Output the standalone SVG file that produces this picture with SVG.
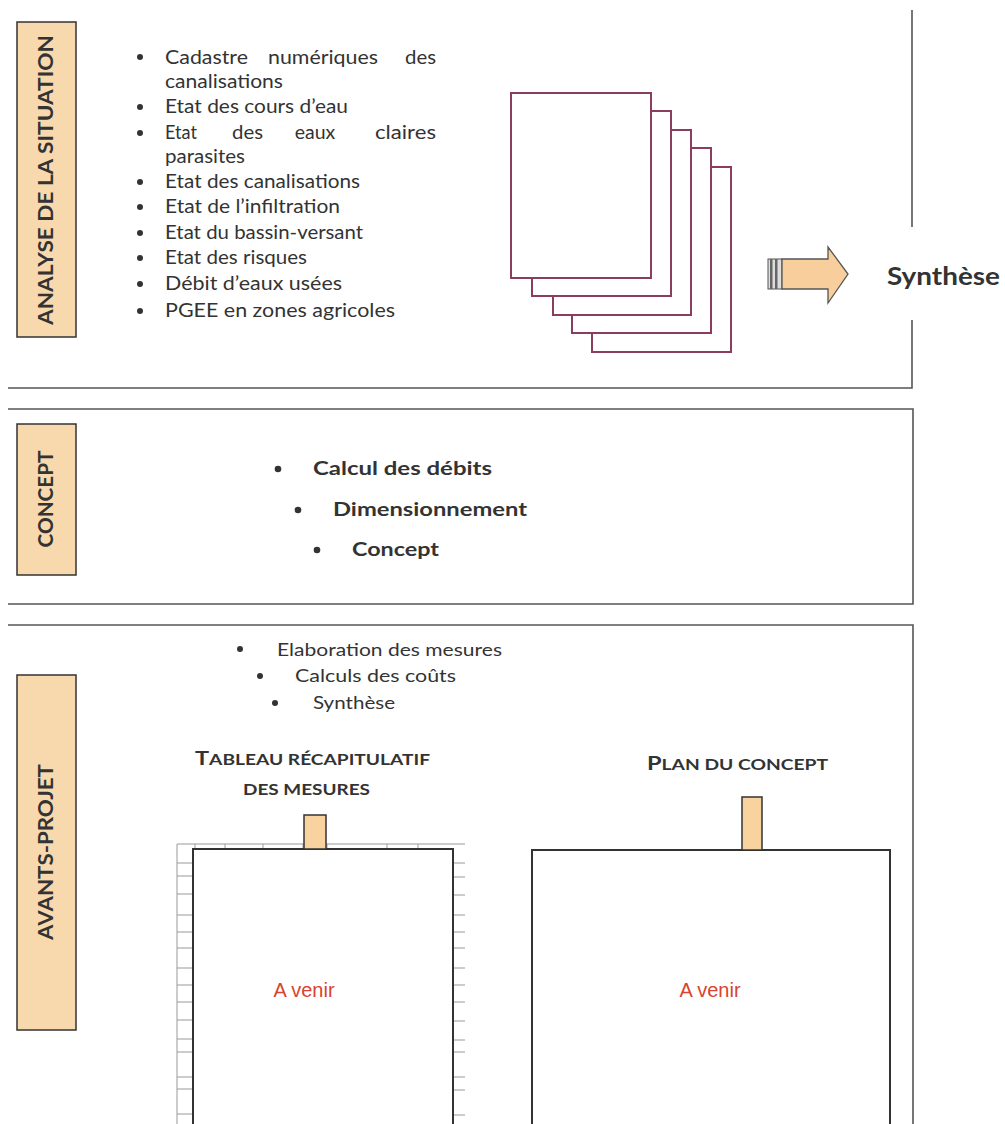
<svg xmlns="http://www.w3.org/2000/svg" width="1005" height="1124" viewBox="0 0 1005 1124">
<style>
.frame{fill:none;stroke:#555;stroke-width:1.6}
.lab{fill:#f8d9ae;stroke:#333;stroke-width:1.5}
.labt{font-family:Lato,"Open Sans",sans-serif;font-weight:bold;font-size:20px;fill:#333;text-anchor:middle}
.t{font-family:Lato,"Open Sans",sans-serif;font-size:19.5px;fill:#333}
.tb{font-family:Lato,"Open Sans",sans-serif;font-size:19px;font-weight:bold;fill:#333}
.page{fill:#fff;stroke:#8a3d5c;stroke-width:2}
.box{fill:#fff;stroke:#333;stroke-width:2}
.tab{fill:#f8d29f;stroke:#333;stroke-width:1.5}
.red{font-family:"Liberation Sans",Arial,sans-serif;font-size:20px;fill:#d9432f;text-anchor:middle}
.sc{font-family:Lato,"Open Sans",sans-serif;font-weight:bold;fill:#333}
.grid{stroke:#999;stroke-width:1;fill:none}
</style>
<rect width="1005" height="1124" fill="#fff"/>

<!-- Section 1 -->
<g id="section-analyse">
  <path class="frame" d="M912 10 V227 M912 320 V388 H8"/>
  <g id="label-analyse">
    <rect class="lab" x="17" y="22" width="59" height="315"/>
    <text class="labt" transform="translate(53,180) rotate(-90)" textLength="290" lengthAdjust="spacingAndGlyphs">ANALYSE DE LA SITUATION</text>
  </g>
  <g id="list-analyse" class="t">
    <circle cx="140" cy="57" r="3" fill="#333"/>
    <text x="165" y="64" textLength="83" lengthAdjust="spacingAndGlyphs">Cadastre</text>
    <text x="268" y="64" textLength="110" lengthAdjust="spacingAndGlyphs">numériques</text>
    <text x="405" y="64" textLength="31" lengthAdjust="spacingAndGlyphs">des</text>
    <text x="165" y="88" textLength="118" lengthAdjust="spacingAndGlyphs">canalisations</text>
    <circle cx="140" cy="107" r="3" fill="#333"/>
    <text x="165" y="113" textLength="183" lengthAdjust="spacingAndGlyphs">Etat des cours d’eau</text>
    <circle cx="140" cy="133" r="3" fill="#333"/>
    <text x="165" y="139" textLength="32" lengthAdjust="spacingAndGlyphs">Etat</text>
    <text x="232" y="139" textLength="31" lengthAdjust="spacingAndGlyphs">des</text>
    <text x="315" y="139" text-anchor="middle">eaux</text>
    <text x="375" y="139" textLength="61" lengthAdjust="spacingAndGlyphs">claires</text>
    <text x="165" y="163" textLength="80" lengthAdjust="spacingAndGlyphs">parasites</text>
    <circle cx="140" cy="182" r="3" fill="#333"/>
    <text x="165" y="188" textLength="195" lengthAdjust="spacingAndGlyphs">Etat des canalisations</text>
    <circle cx="140" cy="207" r="3" fill="#333"/>
    <text x="165" y="213" textLength="175" lengthAdjust="spacingAndGlyphs">Etat de l’infiltration</text>
    <circle cx="140" cy="233" r="3" fill="#333"/>
    <text x="165" y="239" textLength="198" lengthAdjust="spacingAndGlyphs">Etat du bassin-versant</text>
    <circle cx="140" cy="258" r="3" fill="#333"/>
    <text x="165" y="264" textLength="142" lengthAdjust="spacingAndGlyphs">Etat des risques</text>
    <circle cx="140" cy="284" r="3" fill="#333"/>
    <text x="165" y="290" textLength="177" lengthAdjust="spacingAndGlyphs">Débit d’eaux usées</text>
    <circle cx="140" cy="311" r="3" fill="#333"/>
    <text x="165" y="317" textLength="230" lengthAdjust="spacingAndGlyphs">PGEE en zones agricoles</text>
  </g>
  <g id="pages">
    <rect class="page" x="592" y="167" width="139" height="185"/>
    <rect class="page" x="572" y="148" width="139" height="185"/>
    <rect class="page" x="553" y="130" width="138" height="185"/>
    <rect class="page" x="532" y="111" width="139" height="185"/>
    <rect class="page" x="511" y="93" width="140" height="185"/>
  </g>
</g>

<g id="connectors">
  <g id="arrow-synthese">
    <rect x="768" y="259" width="14" height="30" fill="#ddd" stroke="#555" stroke-width="1"/>
    <rect x="770" y="259" width="2.5" height="30" fill="#666"/>
    <rect x="775" y="259" width="2.5" height="30" fill="#666"/>
    <path d="M782 259 H828 V247 L848 274 L828 303 V289 H782 Z" fill="#f8cf9c" stroke="#555" stroke-width="1.3"/>
  </g>
</g>
<g id="node-synthese">
  <text x="887" y="285" font-family="Lato,'Open Sans',sans-serif" font-weight="bold" font-size="25" fill="#333" textLength="113" lengthAdjust="spacingAndGlyphs">Synthèse</text>
</g>

<!-- Section 2 -->
<g id="section-concept">
  <path class="frame" d="M8 409 H913 V604 H8"/>
  <g id="label-concept">
    <rect class="lab" x="17" y="424" width="59" height="151"/>
    <text class="labt" transform="translate(53,499) rotate(-90)" textLength="97" lengthAdjust="spacingAndGlyphs">CONCEPT</text>
  </g>
  <g id="list-concept" class="tb">
    <circle cx="278" cy="469" r="3.3" fill="#333"/>
    <text x="313" y="475" textLength="179" lengthAdjust="spacingAndGlyphs">Calcul des débits</text>
    <circle cx="298" cy="510" r="3.3" fill="#333"/>
    <text x="333" y="516" textLength="194" lengthAdjust="spacingAndGlyphs">Dimensionnement</text>
    <circle cx="317" cy="550" r="3.3" fill="#333"/>
    <text x="352" y="556" textLength="87" lengthAdjust="spacingAndGlyphs">Concept</text>
  </g>
</g>

<!-- Section 3 -->
<g id="section-avants-projet">
  <path class="frame" d="M8 625 H913 V1124"/>
  <g id="label-avants">
    <rect class="lab" x="17" y="675" width="59" height="355"/>
    <text class="labt" transform="translate(53,852) rotate(-90)" textLength="176" lengthAdjust="spacingAndGlyphs">AVANTS-PROJET</text>
  </g>
  <g id="list-avants" class="t">
    <circle cx="240" cy="649" r="3" fill="#333"/>
    <text x="277" y="656" font-size="18" textLength="225" lengthAdjust="spacingAndGlyphs">Elaboration des mesures</text>
    <circle cx="260" cy="676" r="3" fill="#333"/>
    <text x="295" y="682" font-size="18" textLength="161" lengthAdjust="spacingAndGlyphs">Calculs des coûts</text>
    <circle cx="275" cy="703" r="3" fill="#333"/>
    <text x="313" y="709" font-size="18" textLength="82" lengthAdjust="spacingAndGlyphs">Synthèse</text>
  </g>

  <g id="node-tableau">
    <text class="sc" x="195" y="765" textLength="235" lengthAdjust="spacingAndGlyphs"><tspan font-size="19">T</tspan><tspan font-size="15.5">ABLEAU RÉCAPITULATIF</tspan></text>
    <text class="sc" x="243" y="795" font-size="15.5" textLength="127" lengthAdjust="spacingAndGlyphs">DES MESURES</text>
    <g id="table-sheet" class="grid">
      <path d="M177 844 H465 M177 844 V1124"/>
      <path d="M195 844 V849 M225 844 V849 M263 844 V849 M303 844 V849 M327 844 V849 M387 844 V849 M418 844 V849"/>
      <path d="M177 863 H193 M177 876 H193 M177 894 H193 M177 915 H193 M177 932 H193 M177 948 H193 M177 968 H193 M177 985 H193 M177 1002 H193 M177 1020 H193 M177 1039 H193 M177 1052 H193 M177 1077 H193 M177 1089 H193 M177 1114 H193"/>
      <path d="M453 863 H465 M453 877 H465 M453 895 H465 M453 915 H465 M453 932 H465 M453 948 H465 M453 968 H465 M453 985 H465 M453 1002 H465 M453 1021 H465 M453 1040 H465 M453 1052 H465 M453 1077 H465 M453 1090 H465 M453 1115 H465"/>
    </g>
    <rect class="box" x="193" y="849" width="260" height="290"/>
    <rect class="tab" x="304" y="815" width="22" height="34"/>
    <text class="red" x="304" y="997">A venir</text>
  </g>

  <g id="node-plan">
    <text class="sc" x="647" y="770" textLength="181" lengthAdjust="spacingAndGlyphs"><tspan font-size="19">P</tspan><tspan font-size="15.5">LAN DU CONCEPT</tspan></text>
    <rect class="box" x="532" y="850" width="358" height="290"/>
    <rect class="tab" x="742" y="797" width="20" height="53"/>
    <text class="red" x="710" y="997">A venir</text>
  </g>
</g>
</svg>
